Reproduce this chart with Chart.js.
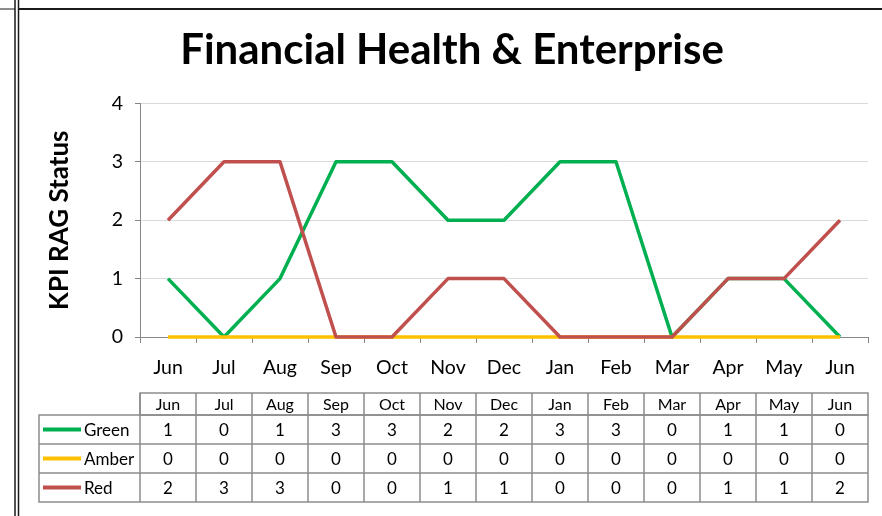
<!DOCTYPE html>
<html>
<head>
<meta charset="utf-8">
<script src="https://cdn.jsdelivr.net/npm/chart.js@4"></script>
<style>
  html, body { margin: 0; padding: 0; background: #fff; }
  #wrap { width: 882px; height: 516px; position: relative; }
</style>
</head>
<body>
<div id="wrap"><canvas id="myChart" width="882" height="516"></canvas></div>
<script>
// values
const months = ['Jun', 'Jul', 'Aug', 'Sep', 'Oct', 'Nov', 'Dec', 'Jan', 'Feb', 'Mar', 'Apr', 'May', 'Jun'];
const greenValues = [1, 0, 1, 3, 3, 2, 2, 3, 3, 0, 1, 1, 0];
const amberValues = [0, 0, 0, 0, 0, 0, 0, 0, 0, 0, 0, 0, 0];
const redValues = [2, 3, 3, 0, 0, 1, 1, 0, 0, 0, 1, 1, 2];
const seriesNames = ['Green', 'Amber', 'Red'];
const seriesColors = ['#00b050', '#ffc000', '#c0504d'];
const yTicks = [0, 1, 2, 3, 4];

const FONT = 'Lato, "Open Sans", sans-serif';
const gridGray = '#d9d9d9';
const axisGray = '#868686';

// spreadsheet borders + data table under the x axis
const tablePlugin = {
  id: 'dataTable',
  afterDraw(chart) {
    const ctx = chart.ctx;
    const xs = chart.scales.x;
    const values = [greenValues, amberValues, redValues];
    const step = xs.getPixelForValue(1) - xs.getPixelForValue(0);
    const headTop = 393, headBot = 415, rowH = 29;
    const legLeft = 39;
    const tabLeft = xs.getPixelForValue(0) - step / 2;
    const tabRight = xs.getPixelForValue(months.length - 1) + step / 2;

    ctx.save();
    ctx.strokeStyle = '#8c8c8c';
    ctx.lineWidth = 1.5;
    // header cells
    ctx.strokeRect(tabLeft, headTop, tabRight - tabLeft, headBot - headTop);
    // body
    ctx.strokeRect(legLeft, headBot, tabRight - legLeft, rowH * 3);
    ctx.beginPath();
    for (let r = 1; r < 3; r++) {
      ctx.moveTo(legLeft, headBot + r * rowH);
      ctx.lineTo(tabRight, headBot + r * rowH);
    }
    for (let i = 0; i < months.length; i++) {
      const xe = xs.getPixelForValue(i) - step / 2;
      ctx.moveTo(xe, headTop);
      ctx.lineTo(xe, headBot + rowH * 3);
    }
    ctx.stroke();

    ctx.fillStyle = '#000';
    ctx.textAlign = 'center';
    ctx.textBaseline = 'middle';
    ctx.font = '16px ' + FONT;
    months.forEach((m, i) => {
      ctx.fillText(m, xs.getPixelForValue(i), (headTop + headBot) / 2 + 1);
    });
    ctx.font = '17px ' + FONT;
    values.forEach((arr, r) => {
      const cy = headBot + r * rowH + rowH / 2 + 1;
      arr.forEach((v, i) => ctx.fillText(String(v), xs.getPixelForValue(i), cy));
      // legend key
      ctx.strokeStyle = seriesColors[r];
      ctx.lineWidth = 4;
      ctx.beginPath();
      ctx.moveTo(43, cy - 1);
      ctx.lineTo(81, cy - 1);
      ctx.stroke();
      ctx.textAlign = 'left';
      ctx.fillText(seriesNames[r], 84, cy);
      ctx.textAlign = 'center';
    });

    // sheet borders
    ctx.strokeStyle = '#1a1a1a';
    ctx.lineWidth = 2;
    ctx.beginPath();
    ctx.moveTo(18, 9); ctx.lineTo(882, 9);
    ctx.stroke();
    ctx.lineWidth = 1;
    ctx.beginPath();
    ctx.moveTo(0, 9); ctx.lineTo(15, 9);
    ctx.stroke();
    ctx.lineWidth = 1.5;
    ctx.beginPath();
    ctx.moveTo(15, 0); ctx.lineTo(15, 516);
    ctx.moveTo(18.5, 0); ctx.lineTo(18.5, 516);
    ctx.stroke();
    ctx.restore();
  }
};

const ctx = document.getElementById('myChart').getContext('2d');
const chart = new Chart(ctx, {
  type: 'line',
  data: {
    labels: months,
    datasets: [
      { label: seriesNames[0], data: greenValues, borderColor: seriesColors[0], order: 3 },
      { label: seriesNames[1], data: amberValues, borderColor: seriesColors[1], order: 2 },
      { label: seriesNames[2], data: redValues, borderColor: seriesColors[2], order: 1 },
    ].map(d => Object.assign(d, {
      borderWidth: 3.5, pointRadius: 0, tension: 0, fill: false, clip: false,
      borderJoinStyle: 'round'
    })),
  },
  options: {
    responsive: false,
    animation: false,
    devicePixelRatio: 1,
    layout: { padding: { top: 8, left: 36, right: 14, bottom: 0 } },
    plugins: {
      legend: { display: false },
      tooltip: { enabled: false },
      title: {
        display: true,
        text: 'Financial Health & Enterprise',
        color: '#000',
        font: { family: FONT, size: 42, weight: 'bold', lineHeight: 1.2 },
        padding: { top: 17, bottom: 28 },
      },
    },
    scales: {
      x: {
        offset: true,
        grid: { offset: true, drawOnChartArea: false, tickLength: 6, tickColor: axisGray, tickWidth: 1 },
        border: { color: axisGray, width: 1 },
        ticks: { color: '#000', font: { family: FONT, size: 19.5 }, padding: 13, maxRotation: 0, autoSkip: false },
        afterFit(scale) { scale.height = 516 - 337; },
      },
      y: {
        min: 0,
        max: 4,
        afterBuildTicks(scale) { scale.ticks = yTicks.map(v => ({ value: v })); },
        grid: { color: gridGray, tickColor: axisGray, tickLength: 5, lineWidth: 1 },
        border: { color: axisGray, width: 1 },
        ticks: { color: '#000', font: { family: FONT, size: 19.5 }, padding: 12 },
        title: {
          display: true,
          text: 'KPI RAG Status',
          color: '#000',
          font: { family: FONT, size: 26, weight: 'bold', lineHeight: 1.2 },
          padding: { top: 8 },
        },
        afterFit(scale) { scale.width = 104; },
      },
    },
  },
  plugins: [tablePlugin],
});
</script>
</body>
</html>
